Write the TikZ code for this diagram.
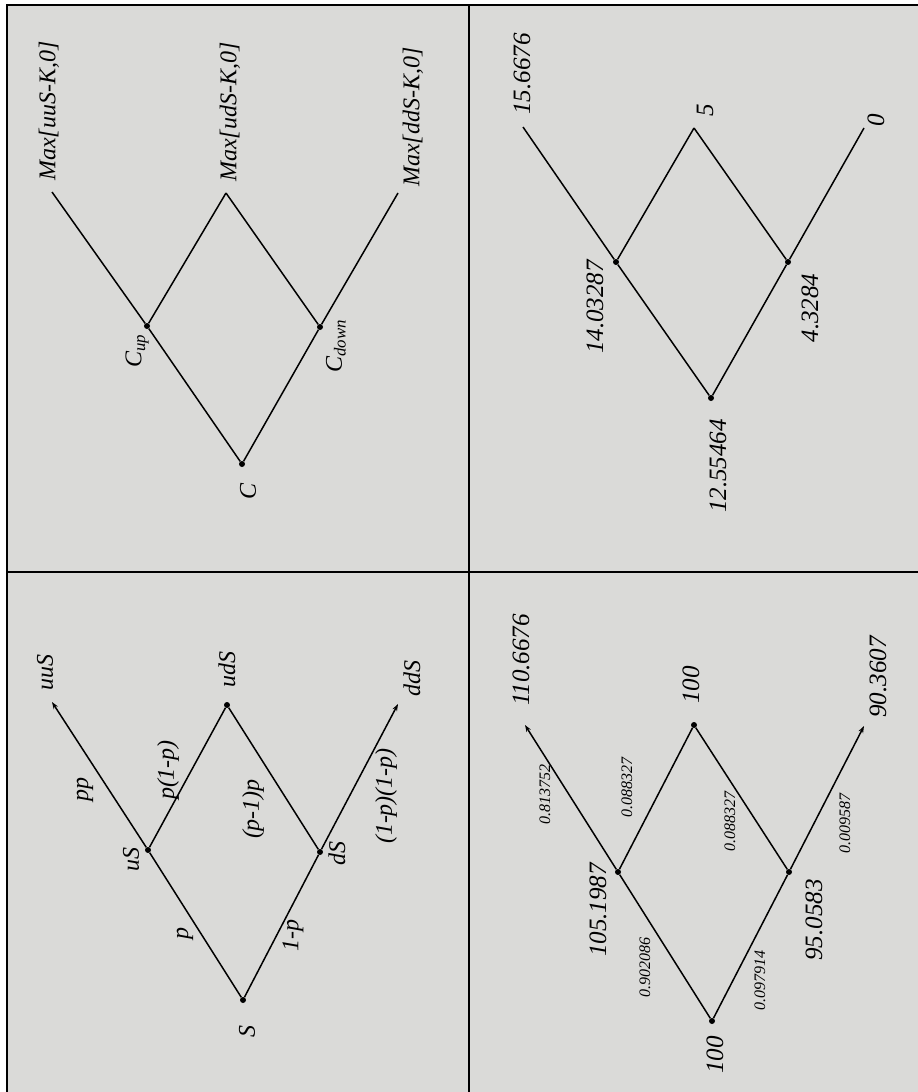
\documentclass[tikz,border=0pt]{standalone}
\usepackage{fontspec}
\setmainfont{Liberation Serif}
\usetikzlibrary{arrows.meta}
\definecolor{paper}{RGB}{218,218,216}
\begin{document}
\begin{tikzpicture}[x=1pt,y=-1pt,
  edge/.style={line width=1.5pt},
  gridline/.style={line width=2.4pt},
  dot/.style={circle,fill,inner sep=0pt,minimum size=6pt},
  lbl/.style={rotate=90,font=\fontsize{24}{28}\selectfont\itshape,inner sep=0pt},
  maxl/.style={rotate=90,font=\fontsize{24}{28}\selectfont\itshape,inner sep=0pt},
  num/.style={rotate=90,font=\fontsize{25}{29}\selectfont\itshape,inner sep=0pt},
  prob/.style={rotate=90,font=\fontsize{16}{19}\selectfont\itshape,inner sep=0pt},
  tip/.style={-{Stealth[length=7pt,width=5pt]}}]
\useasboundingbox (0,0) rectangle (918,1092);
\fill[paper] (7,5) rectangle (918,1092);
\draw[gridline] (7,1092) -- (7,5) -- (918,5);
\draw[gridline] (469,5) -- (469,1092);
\draw[gridline] (7,572) -- (918,572);

% ---------- top-left: option values
\node[dot] (C) at (242,464) {};
\node[dot] (Cu) at (147,326) {};
\node[dot] (Cd) at (320,327) {};
\coordinate (Muu) at (52,192);
\coordinate (Mud) at (226,193);
\coordinate (Mdd) at (398,193);
\draw[edge] (C) -- (Cu);
\draw[edge] (C) -- (Cd);
\draw[edge] (Cu) -- (Muu);
\draw[edge] (Cu) -- (Mud);
\draw[edge] (Cd) -- (Mud);
\draw[edge] (Cd) -- (Mdd);
\node[maxl] (tMuu) at (49,111) {Max[uuS-K,0]};
\node[maxl] (tMud) at (230,112) {Max[udS-K,0]};
\node[maxl] (tMdd) at (413,117) {Max[ddS-K,0]};
\node[lbl] (tCu) at (137,351) {C\textsubscript{up}};
\node[lbl] (tCd) at (336,346) {C\textsubscript{down}};
\node[lbl] (tC) at (248,491) {C};

% ---------- top-right: numeric option values
\node[dot] (R) at (711,398) {};
\node[dot] (Ru) at (616,262) {};
\node[dot] (Rd) at (788,262) {};
\coordinate (Ruu) at (523,127);
\coordinate (Rud) at (694,128);
\coordinate (Rdd) at (864,128);
\draw[edge] (R) -- (Ru);
\draw[edge] (R) -- (Rd);
\draw[edge] (Ru) -- (Ruu);
\draw[edge] (Ru) -- (Rud);
\draw[edge] (Rd) -- (Rud);
\draw[edge] (Rd) -- (Rdd);
\node[num] (tRuu) at (522,74) {15.6676};
\node[num] (tRud) at (705,110) {5};
\node[num] (tRdd) at (876,120) {0};
\node[num] (tRu) at (595,307) {14.03287};
\node[num] (tRd) at (810,308) {4.3284};
\node[num] (tR) at (718,466) {12.55464};

% ---------- bottom-left: stock tree with probabilities
\node[dot] (S) at (243,1000) {};
\node[dot] (uS) at (148,850) {};
\node[dot] (dS) at (320,852) {};
\coordinate (uuS) at (52,702);
\node[dot] (udS) at (227,705) {};
\coordinate (ddS) at (398,704);
\draw[edge] (S) -- (uS);
\draw[edge] (S) -- (dS);
\draw[edge,tip] (uS) -- (uuS);
\draw[edge] (uS) -- (udS);
\draw[edge] (dS) -- (udS);
\draw[edge,tip] (dS) -- (ddS);
\node[lbl] (tuuS) at (45,672) {uuS};
\node[lbl] (tudS) at (227,669) {udS};
\node[lbl] (tddS) at (412,678) {ddS};
\node[lbl] (tuS) at (131,859) {uS};
\node[lbl] (tdS) at (337,853) {dS};
\node[lbl] (tS) at (247,1031) {S};
\node[lbl] (tpp) at (85,789) {pp};
\node[lbl] (tpq) at (168,770) {p(1-p)};
\node[lbl] (tqp) at (253,809) {(p-1)p};
\node[lbl] (tqq) at (386,796) {(1-p)(1-p)};
\node[lbl] (tp) at (185,933) {p};
\node[lbl] (tq) at (293,935) {1-p};

% ---------- bottom-right: numeric stock tree
\node[dot] (N) at (712,1021) {};
\node[dot] (Nu) at (618,872) {};
\node[dot] (Nd) at (789,872) {};
\coordinate (Nuu) at (525,725);
\node[dot] (Nud) at (694,725) {};
\coordinate (Ndd) at (864,726);
\draw[edge] (N) -- (Nu);
\draw[edge] (N) -- (Nd);
\draw[edge,tip] (Nu) -- (Nuu);
\draw[edge] (Nu) -- (Nud);
\draw[edge] (Nd) -- (Nud);
\draw[edge,tip] (Nd) -- (Ndd);
\node[num] (tNuu) at (521,660) {110.6676};
\node[num] (tNud) at (691,685) {100};
\node[num] (tNdd) at (878,677) {90.3607};
\node[num] (tNu) at (598,910) {105.1987};
\node[num] (tNd) at (814,920) {95.0583};
\node[num] (tN) at (715,1055) {100};
\node[prob] (p1) at (545,794) {0.813752};
\node[prob] (p2) at (627,787) {0.088327};
\node[prob] (p3) at (730,821) {0.088327};
\node[prob] (p4) at (845,823) {0.009587};
\node[prob] (p5) at (645,967) {0.902086};
\node[prob] (p6) at (760,980) {0.097914};
\end{tikzpicture}
\end{document}
